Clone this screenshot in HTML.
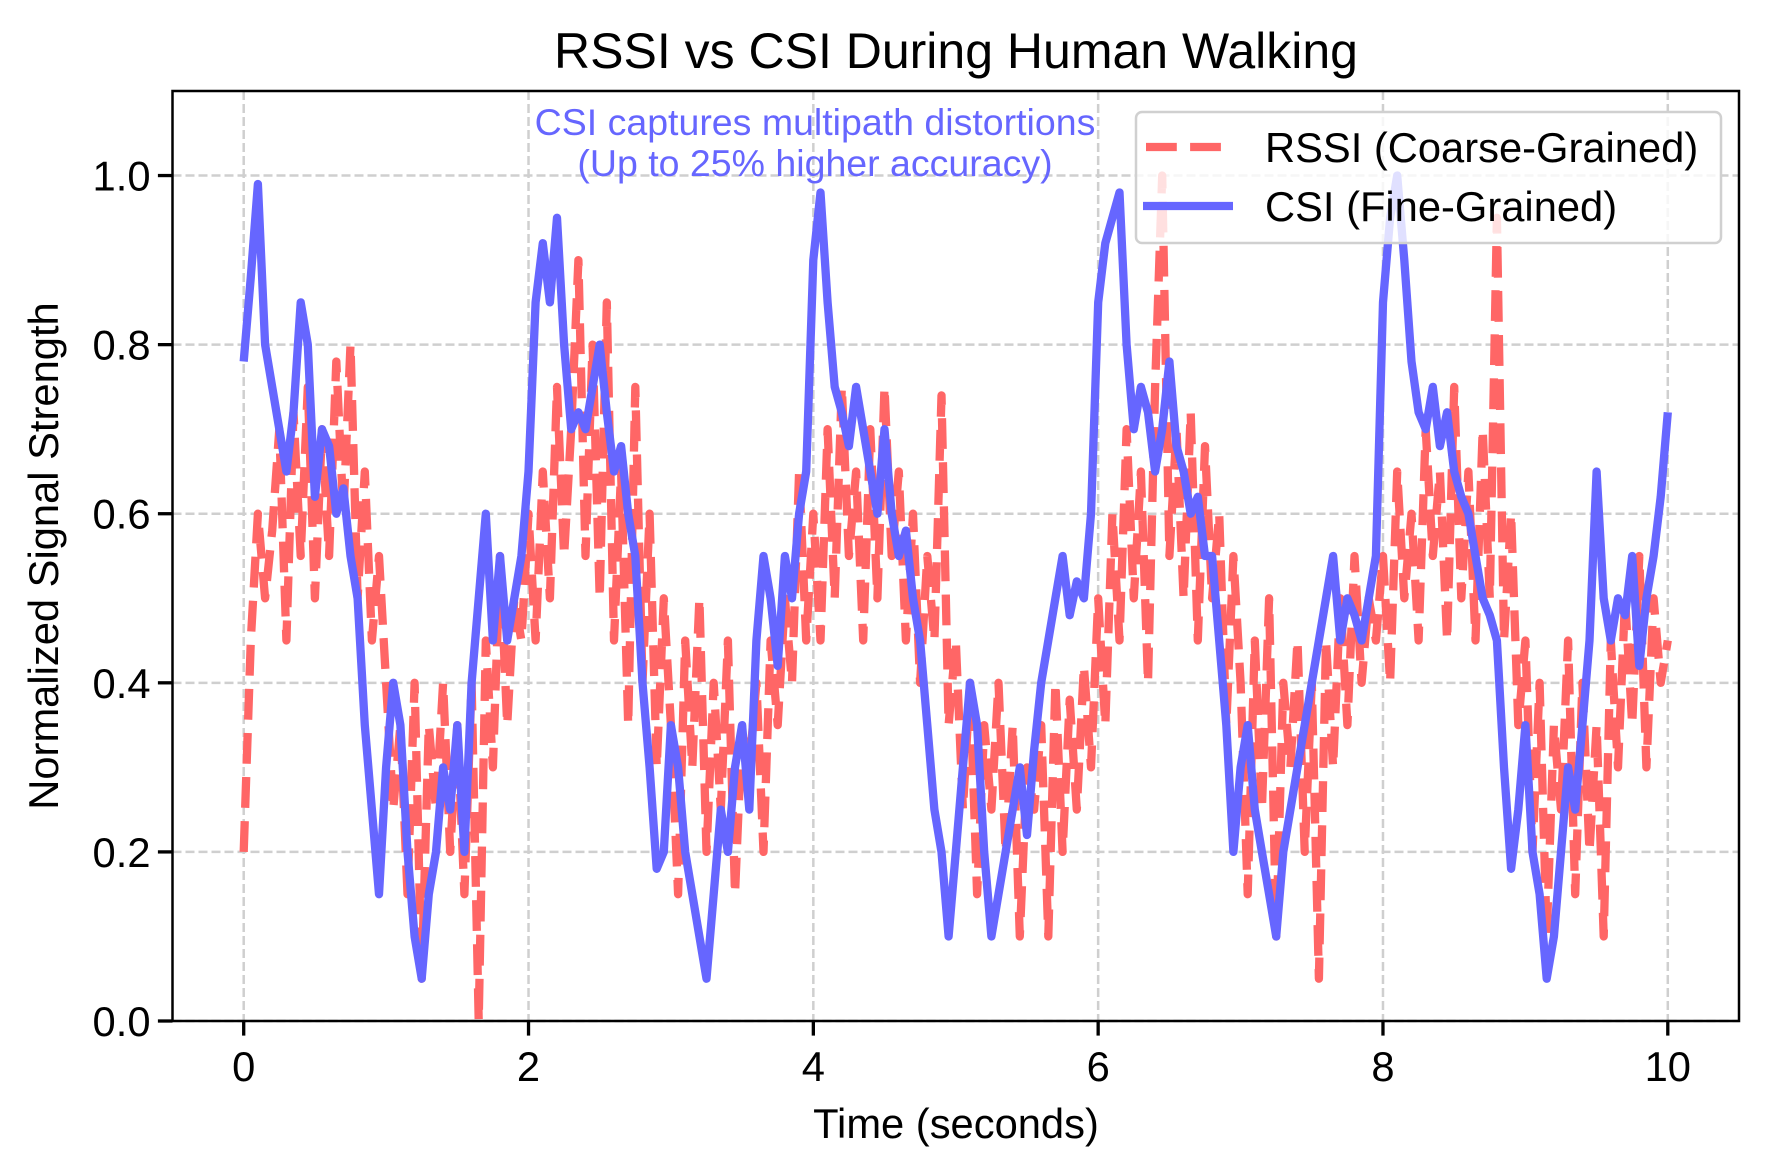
<!DOCTYPE html>
<html><head><meta charset="utf-8"><style>
html,body{margin:0;padding:0;background:#fff;}
svg{display:block;font-family:"Liberation Sans",Arial,sans-serif;}
</style></head><body>
<svg id="chart" width="1770" height="1170" viewBox="0 0 1770 1170" xmlns="http://www.w3.org/2000/svg">
<rect width="1770" height="1170" fill="#fff"/>
<g id="grid"></g>
<g id="series"></g>
<rect x="172.5" y="91" width="1566.5" height="930" fill="none" stroke="#000" stroke-width="2.5"/>
<g id="ticks"></g>
<text x="956" y="68" font-size="50" text-anchor="middle">RSSI vs CSI During Human Walking</text>
<text x="956" y="1138" font-size="41.7" text-anchor="middle">Time (seconds)</text>
<text transform="translate(58,556) rotate(-90)" font-size="41.7" text-anchor="middle">Normalized Signal Strength</text>
<g fill="#6666ff" font-size="37.5" text-anchor="middle">
<text x="815" y="135">CSI captures multipath distortions</text>
<text x="815" y="176">(Up to 25% higher accuracy)</text>
</g>
<g>
<rect x="1136" y="112" width="585" height="131" rx="6" fill="#fff" fill-opacity="0.8" stroke="#d0d0d0" stroke-width="2.5"/>
<line x1="1146" y1="147" x2="1230" y2="147" stroke="#ff6666" stroke-width="8.3" stroke-dasharray="30.8,13.3"/>
<text x="1265" y="162" font-size="41.7">RSSI (Coarse-Grained)</text>
<line x1="1143" y1="206" x2="1233" y2="206" stroke="#6666ff" stroke-width="8.3"/>
<text x="1265" y="221" font-size="41.7">CSI (Fine-Grained)</text>
</g>
</svg>
<script>
const xTicks = [0, 2, 4, 6, 8, 10];
const yTicks = [0.0, 0.2, 0.4, 0.6, 0.8, 1.0];
const yTickLabels = ["0.0", "0.2", "0.4", "0.6", "0.8", "1.0"];
const timeStep = 0.05;
const rssiValues = [
0.2,0.45,0.6,0.5,0.58,0.7,0.45,0.72,0.55,0.75,0.5,0.7,0.55,0.78,0.6,0.8,0.5,0.65,0.45,0.55,
0.4,0.25,0.35,0.15,0.4,0.05,0.35,0.25,0.4,0.2,0.35,0.15,0.4,0.0,0.45,0.3,0.55,0.35,0.5,0.45,
0.6,0.45,0.65,0.5,0.75,0.55,0.7,0.9,0.55,0.8,0.5,0.85,0.45,0.65,0.35,0.75,0.4,0.6,0.3,0.5,
0.35,0.15,0.45,0.3,0.5,0.2,0.4,0.25,0.45,0.15,0.35,0.3,0.4,0.2,0.45,0.35,0.5,0.4,0.65,0.45,
0.6,0.45,0.7,0.5,0.75,0.55,0.65,0.45,0.7,0.5,0.75,0.55,0.65,0.45,0.6,0.4,0.55,0.45,0.74,0.35,
0.45,0.25,0.4,0.15,0.35,0.25,0.4,0.2,0.35,0.1,0.3,0.25,0.35,0.1,0.4,0.2,0.38,0.25,0.42,0.3,
0.5,0.35,0.6,0.45,0.7,0.5,0.65,0.4,0.75,1.0,0.55,0.7,0.5,0.72,0.45,0.68,0.5,0.6,0.35,0.55,
0.4,0.15,0.45,0.25,0.5,0.1,0.4,0.3,0.45,0.2,0.4,0.05,0.45,0.3,0.5,0.35,0.55,0.4,0.5,0.45,
0.55,0.4,0.65,0.5,0.6,0.45,0.7,0.55,0.65,0.45,0.75,0.5,0.65,0.45,0.7,0.5,0.95,0.45,0.6,0.35,
0.45,0.2,0.4,0.1,0.35,0.25,0.45,0.15,0.4,0.2,0.35,0.1,0.45,0.3,0.5,0.35,0.55,0.3,0.5,0.4,0.45];
const csiValues = [
0.78,0.88,0.99,0.8,0.75,0.7,0.65,0.72,0.85,0.8,0.62,0.7,0.68,0.6,0.63,0.55,0.5,0.35,0.25,0.15,
0.3,0.4,0.35,0.2,0.1,0.05,0.15,0.2,0.3,0.25,0.35,0.2,0.4,0.5,0.6,0.45,0.55,0.45,0.5,0.55,
0.65,0.85,0.92,0.85,0.95,0.8,0.7,0.72,0.7,0.75,0.8,0.72,0.65,0.68,0.6,0.55,0.4,0.3,0.18,0.2,
0.35,0.3,0.2,0.15,0.1,0.05,0.15,0.25,0.2,0.3,0.35,0.25,0.45,0.55,0.5,0.42,0.55,0.5,0.6,0.65,
0.9,0.98,0.85,0.75,0.72,0.68,0.75,0.7,0.65,0.6,0.7,0.6,0.55,0.58,0.5,0.45,0.35,0.25,0.2,0.1,
0.2,0.3,0.4,0.35,0.2,0.1,0.15,0.2,0.25,0.3,0.22,0.32,0.4,0.45,0.5,0.55,0.48,0.52,0.5,0.6,
0.85,0.92,0.95,0.98,0.8,0.7,0.75,0.72,0.65,0.7,0.78,0.68,0.65,0.6,0.62,0.55,0.55,0.45,0.35,0.2,
0.3,0.35,0.25,0.2,0.15,0.1,0.2,0.25,0.3,0.35,0.4,0.45,0.5,0.55,0.45,0.5,0.48,0.45,0.5,0.55,
0.85,0.95,1.0,0.9,0.78,0.72,0.7,0.75,0.68,0.72,0.65,0.62,0.6,0.55,0.5,0.48,0.45,0.3,0.18,0.25,
0.35,0.2,0.15,0.05,0.1,0.2,0.3,0.25,0.35,0.45,0.65,0.5,0.45,0.5,0.48,0.55,0.42,0.5,0.55,0.62,0.72];

const NS = "http://www.w3.org/2000/svg";
const X0 = 172.5, X1 = 1739, Y0 = 1021, Y1 = 91;
const xMin = -0.5, xMax = 10.5, yMin = 0, yMax = 1.1;
function sx(v){ return X0 + (v - xMin) / (xMax - xMin) * (X1 - X0); }
function sy(v){ return Y0 - (v - yMin) / (yMax - yMin) * (Y0 - Y1); }
function mk(tag, attrs, parent){
  const e = document.createElementNS(NS, tag);
  for (const k in attrs) e.setAttribute(k, attrs[k]);
  parent.appendChild(e);
  return e;
}
const grid = document.getElementById("grid");
const ticks = document.getElementById("ticks");
const series = document.getElementById("series");

xTicks.forEach(t => {
  const g = mk("line", {x1: sx(t), x2: sx(t), y1: Y1, y2: Y0, stroke: "#cfcfcf", "stroke-width": 2.5, "stroke-dasharray": "9,4"}, grid);
  
  
  const tk = mk("line", {x1: sx(t), x2: sx(t), y1: Y0, y2: Y0 + 14.6, stroke: "#000", "stroke-width": 3.3}, ticks);
  
  
  const lb = mk("text", {x: sx(t), y: Y0 + 60, "font-size": 41.7, "text-anchor": "middle"}, ticks);
  lb.textContent = String(t);
  
  
});
yTicks.forEach((t, i) => {
  const g = mk("line", {x1: X0, x2: X1, y1: sy(t), y2: sy(t), stroke: "#cfcfcf", "stroke-width": 2.5, "stroke-dasharray": "9,4"}, grid);
  
  
  const tk = mk("line", {x1: X0 - 14.6, x2: X0, y1: sy(t), y2: sy(t), stroke: "#000", "stroke-width": 3.3}, ticks);
  
  
  const lb = mk("text", {x: X0 - 22, y: sy(t) + 15, "font-size": 41.7, "text-anchor": "end"}, ticks);
  lb.textContent = yTickLabels[i];
  
  
});

function pathFor(vals){
  return vals.map((v, i) => (i ? "L" : "M") + sx(i * timeStep).toFixed(1) + "," + sy(v).toFixed(1)).join("");
}
const clip = mk("clipPath", {id: "plotclip"}, series);
mk("rect", {x: X0, y: Y1, width: X1 - X0, height: Y0 - Y1}, clip);
const rssi = mk("path", {d: pathFor(rssiValues), fill: "none", stroke: "#ff6666", "stroke-width": 8.3, "stroke-dasharray": "30.8,13.3", "stroke-linejoin": "round", "clip-path": "url(#plotclip)"}, series);


const csi = mk("path", {d: pathFor(csiValues), fill: "none", stroke: "#6666ff", "stroke-width": 8.3, "stroke-linejoin": "round", "clip-path": "url(#plotclip)"}, series);


</script>
</body></html>
